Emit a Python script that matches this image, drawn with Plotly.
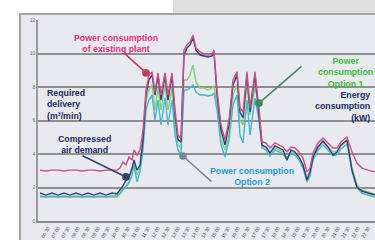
import plotly.graph_objects as go

# time stamps (minutes from start of record)
minutes = [6, 24, 42, 60, 78, 96, 114, 132, 150, 168, 186, 204, 222, 237,
           246, 255, 264, 273, 282, 288, 297, 306, 315, 324,
           333, 342, 351, 360, 369, 381, 390, 402, 411, 420,
           429, 438, 447, 456, 465, 474, 486, 498, 510, 522,
           528, 537, 549, 561, 573, 585, 597, 606, 615, 627,
           636, 651, 663, 672, 684, 696, 711, 726, 735, 747,
           759, 771, 783, 795, 807, 816, 825, 840, 855, 870,
           885, 897, 909, 927, 942, 957, 972, 990, 1011]

existing_plant = [3.04, 2.99, 3.04, 3.04, 2.99, 3.04, 3.04, 2.99, 3.04, 3.04, 2.99, 3.04, 3.04, 3.04,
                  3.16, 3.52, 3.34, 3.82, 3.64, 4.24, 3.94, 4.24, 5.43, 7.82,
                  8.72, 8.90, 7.70, 8.84, 7.52, 8.84, 7.52, 8.84, 6.63, 5.13,
                  4.96, 10.21, 10.51, 10.69, 11.10, 10.33, 10.09, 9.97, 9.91, 9.97,
                  10.21, 7.82, 5.73, 4.84, 6.03, 8.42, 8.90, 6.75, 6.51, 8.90,
                  6.75, 8.90, 6.63, 4.72, 4.66, 4.36, 4.66, 4.54, 4.42, 4.12,
                  4.42, 4.36, 4.12, 3.76, 2.93, 3.16, 4.06, 4.66, 4.96, 4.66,
                  4.36, 4.36, 4.72, 5.01, 4.12, 3.46, 3.16, 3.04, 2.93]

air_demand = [1.67, 1.55, 1.67, 1.55, 1.67, 1.55, 1.67, 1.55, 1.67, 1.55, 1.67, 1.55, 1.67, 1.61,
              1.85, 2.09, 2.45, 2.63, 3.16, 3.64, 3.04, 3.34, 4.84, 7.52,
              8.42, 8.72, 7.52, 8.66, 7.22, 8.66, 7.22, 8.66, 6.33, 4.84,
              4.72, 9.91, 10.33, 10.51, 10.93, 10.21, 9.91, 9.85, 9.79, 9.85,
              10.03, 7.52, 5.43, 4.54, 5.73, 8.12, 8.72, 6.51, 6.15, 8.72,
              6.51, 8.66, 6.33, 4.54, 4.42, 4.06, 4.48, 4.36, 4.24, 3.64,
              4.24, 4.12, 3.82, 3.34, 2.45, 2.93, 3.82, 4.42, 4.78, 4.42,
              3.94, 4.12, 4.54, 4.84, 3.04, 2.03, 1.79, 1.67, 1.55]

option_2 = [1.49, 1.43, 1.49, 1.43, 1.49, 1.43, 1.49, 1.43, 1.49, 1.43, 1.49, 1.43, 1.49, 1.49,
            1.67, 1.85, 2.09, 2.27, 2.75, 3.34, 2.33, 2.93, 4.24, 6.63,
            7.22, 7.52, 6.03, 7.22, 5.73, 7.34, 5.73, 7.22, 5.13, 4.24,
            3.94, 7.82, 7.82, 7.94, 8.12, 7.70, 7.52, 7.52, 7.46, 7.52,
            7.64, 6.63, 4.54, 3.82, 4.84, 6.93, 7.52, 5.13, 4.66, 7.22,
            5.13, 7.34, 6.03, 4.36, 4.24, 3.88, 4.24, 4.12, 4.00, 3.64,
            4.06, 3.94, 3.64, 3.16, 2.33, 2.69, 3.64, 4.24, 4.54, 4.24,
            3.88, 3.94, 4.30, 4.60, 2.93, 1.97, 1.67, 1.55, 1.43]

option_1 = [1.43, 1.43, 1.43, 1.43, 1.43, 1.43, 1.43, 1.43, 1.43, 1.43, 1.43, 1.43, 1.43, 1.43,
            1.61, 1.85, 2.09, 2.33, 2.93, 3.64, 2.75, 3.16, 4.84, 7.22,
            7.82, 8.12, 6.63, 7.94, 6.63, 8.12, 6.63, 7.94, 5.73, 4.54,
            4.36, 8.42, 8.42, 8.72, 9.31, 8.30, 7.94, 7.94, 7.82, 7.94,
            8.06, 6.93, 4.84, 4.24, 5.13, 7.52, 8.12, 6.03, 5.73, 8.12,
            6.33, 7.94, 6.93, 4.48, 4.36, 4.06, 4.36, 4.24, 4.12, 3.76,
            4.18, 4.06, 3.76, 3.34, 2.57, 2.93, 3.82, 4.42, 4.72, 4.42,
            4.12, 4.18, 4.48, 4.78, 3.16, 2.15, 1.85, 1.73, 1.61]

y_ticks = [0, 2, 4, 6, 8, 10, 12]
x_tick_minutes = list(range(30, 1000, 30))
x_tick_labels = ["%02d:%02d" % (6 + m // 60, m % 60) for m in x_tick_minutes]

fig = go.Figure()
fig.add_trace(go.Scatter(x=minutes, y=option_1, mode="lines",
                         line=dict(color="#86cf78", width=1.4), name="Option 1"))
fig.add_trace(go.Scatter(x=minutes, y=option_2, mode="lines",
                         line=dict(color="#46b6cc", width=1.4), name="Option 2"))
fig.add_trace(go.Scatter(x=minutes, y=air_demand, mode="lines",
                         line=dict(color="#34407a", width=1.4), name="Compressed air demand"))
fig.add_trace(go.Scatter(x=minutes, y=existing_plant, mode="lines",
                         line=dict(color="#cc5088", width=1.4), name="Existing plant"))

bold = "Liberation Sans, Arial, sans-serif"
annos = [
    dict(text="<b>Power consumption<br>of existing plant</b>",
         x=(116 - 38) / 337, y=(221 - 43) / 201, color="#ea2a82", align="center"),
    dict(text="<b>Power<br>consumption<br>Option 1</b>",
         x=(345 - 38) / 337, y=(221 - 72) / 201, color="#3db83d", align="center"),
    dict(text="<b>Energy<br>consumption<br>(kW)</b>",
         x=(372 - 38) / 337, y=(221 - 106) / 201, color="#1e2a5e", align="right", xanchor="right"),
    dict(text="<b>Required<br>delivery<br>(m³/min)</b>",
         x=(45 - 38) / 337, y=(221 - 104) / 201, color="#1e2a5e", align="left", xanchor="left"),
    dict(text="<b>Compressed<br>air demand</b>",
         x=(84 - 38) / 337, y=(221 - 144) / 201, color="#1e2a5e", align="center"),
    dict(text="<b>Power consumption<br>Option 2</b>",
         x=(252 - 38) / 337, y=(221 - 176) / 201, color="#1c9be0", align="center"),
]
for a in annos:
    fig.add_annotation(text=a["text"], xref="paper", yref="paper", x=a["x"], y=a["y"],
                       showarrow=False, align=a["align"], xanchor=a.get("xanchor", "center"),
                       yanchor="middle",
                       font=dict(family=bold, size=8.8, color=a["color"]))

# pointer lines (tip in data coordinates, tail offset in pixels)
pointers = [
    dict(x=324, y=8.84, ax=-23, ay=-21, color="#c23a64"),
    dict(x=663, y=7.04, ax=44, ay=-38, color="#3f8a5c"),
    dict(x=264, y=2.63, ax=-45, ay=-22, color="#34406e"),
    dict(x=435, y=3.88, ax=30, ay=27, color="#7c8894"),
]
for p in pointers:
    fig.add_annotation(x=p["x"], y=p["y"], ax=p["ax"], ay=p["ay"], text="",
                       showarrow=True, arrowhead=6, arrowsize=1.2, arrowwidth=1.6,
                       arrowcolor=p["color"])

fig.add_shape(type="rect", xref="paper", yref="paper",
              x0=(20 - 38) / 337, x1=1.05, y0=-0.2, y1=(221 - 14) / 201,
              fillcolor="#e8eaf0", line=dict(color="#a4a4a4", width=2), layer="below")
fig.add_shape(type="rect", xref="paper", yref="paper",
              x0=(173 - 38) / 337, x1=1.05, y0=(221 - 13) / 201, y1=1.2,
              fillcolor="#dedede", line=dict(width=0), layer="below")

fig.update_layout(
    width=375, height=240, autosize=False,
    margin=dict(l=38, r=0, t=20, b=19),
    paper_bgcolor="white", plot_bgcolor="#f1f3f8",
    showlegend=False,
    xaxis=dict(range=[0, 1011], tickvals=x_tick_minutes, ticktext=x_tick_labels,
               tickangle=-60, tickfont=dict(family="Liberation Sans", size=5, color="#555"),
               showgrid=False, showline=True, linecolor="#8c8c8c", linewidth=2,
               zeroline=False, ticks=""),
    yaxis=dict(range=[0, 12], tickvals=y_ticks,
               tickfont=dict(family="Liberation Sans", size=5, color="#666"),
               showgrid=True, gridcolor="#8f8f8f", gridwidth=1.5,
               showline=True, linecolor="#9a9a9a", linewidth=1.5,
               zeroline=False, ticks=""),
)

fig.write_html("out.html", config={"displayModeBar": False},
               post_script="document.body.style.margin='0';document.body.style.overflow='hidden';")
